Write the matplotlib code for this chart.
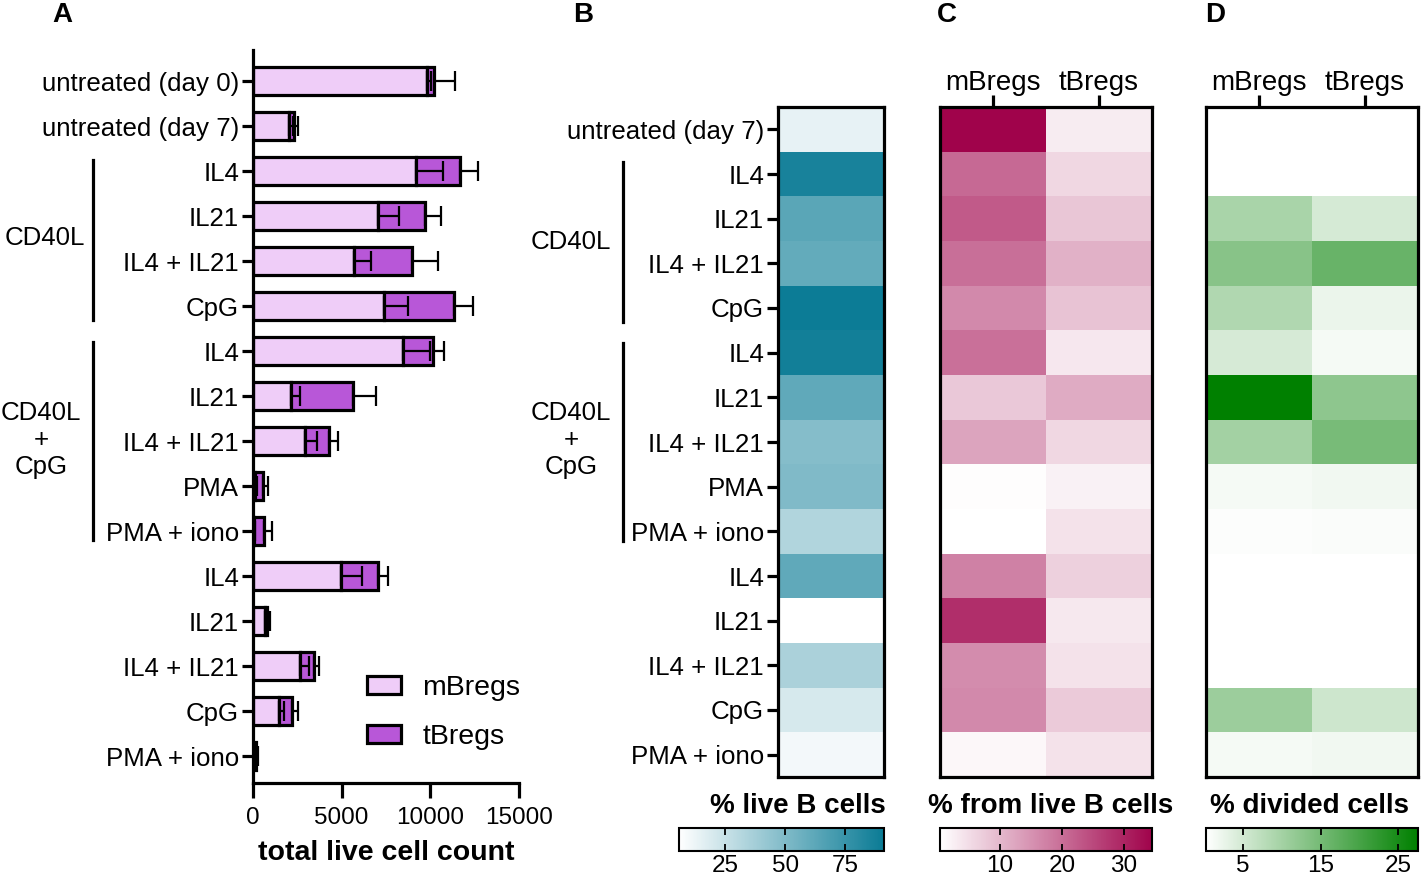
import matplotlib
matplotlib.use("Agg")
import matplotlib.pyplot as plt
import numpy as np
from matplotlib.colors import LinearSegmentedColormap
from matplotlib.patches import Patch

plt.rcParams['font.family'] = ['Liberation Sans', 'DejaVu Sans']

# ---------------- data ----------------
labels_A = ["untreated (day 0)", "untreated (day 7)", "IL4", "IL21", "IL4 + IL21", "CpG",
            "IL4", "IL21", "IL4 + IL21", "PMA", "PMA + iono",
            "IL4", "IL21", "IL4 + IL21", "CpG", "PMA + iono"]
labels_B = labels_A[1:]

mBregs_count = [9800, 2030, 9190, 7060, 5710, 7400, 8480, 2130, 2940, 110, 50, 4970, 680, 2650, 1470, 20]
tBregs_count = [400, 270, 2510, 2660, 3270, 3940, 1670, 3520, 1350, 440, 570, 2070, 130, 800, 720, 150]
mBregs_err = [250, 200, 1550, 1190, 950, 1360, 1500, 520, 660, 100, 80, 1200, 60, 500, 280, 30]
tBregs_err = [1200, 230, 1000, 900, 1470, 1070, 640, 1280, 500, 300, 430, 570, 150, 280, 340, 100]

live_B = [14, 86, 63, 60, 90, 88, 61, 48, 50, 33, 61, 6, 35, 20, 10]

from_live_m = [34.5, 20.5, 22.6, 19.7, 16.3, 19.6, 7.7, 12.6, 0.7, 0.3, 17.4, 28.6, 15.9, 16.3, 1.4]
from_live_t = [2.9, 5.7, 8.0, 10.8, 8.4, 3.6, 11.6, 5.7, 2.3, 4.2, 6.6, 3.4, 4.2, 7.4, 4.2]

divided_m = [0.3, 0.3, 9.5, 13.0, 8.7, 4.6, 27.6, 10.1, 1.3, 0.6, 0.3, 0.3, 0.3, 10.8, 1.3]
divided_t = [0.3, 0.3, 4.8, 16.4, 2.4, 1.3, 12.3, 14.7, 1.8, 0.8, 0.3, 0.3, 0.3, 5.6, 1.8]

cols = ["mBregs", "tBregs"]
x_ticks = [0, 5000, 10000, 15000]
cb_ticks_B = [25, 50, 75]
cb_ticks_C = [10, 20, 30]
cb_ticks_D = [5, 15, 25]

# ---------------- figure ----------------
W, H = 1423, 877
fig = plt.figure(figsize=(W / 100, H / 100), dpi=100)

def ax_px(x0, y0, x1, y1):
    return fig.add_axes([x0 / W, 1 - y1 / H, (x1 - x0) / W, (y1 - y0) / H])

LW = 2.3
FS = 18.6
mcol = '#efcdf8'
tcol = '#b857d8'

# ---- Panel A ----
axA = ax_px(253, 50, 518.7, 783)
y = np.arange(len(labels_A))
mB = np.array(mBregs_count)
tB = np.array(tBregs_count)
axA.barh(y, mB, height=0.62, color=mcol, edgecolor='black', linewidth=LW, zorder=2)
axA.barh(y, tB, left=mB, height=0.62, color=tcol, edgecolor='black', linewidth=LW, zorder=2)
axA.errorbar(mB, y, xerr=[np.zeros_like(mB), mBregs_err], fmt='none', ecolor='black',
             elinewidth=1.6, capsize=7, capthick=1.6, zorder=3)
axA.errorbar(mB + tB, y, xerr=[np.zeros_like(mB), tBregs_err], fmt='none', ecolor='black',
             elinewidth=1.6, capsize=7, capthick=1.6, zorder=3)
axA.set_xlim(0, 15000)
axA.set_ylim(15.6, -0.69)
axA.set_yticks(y)
axA.set_yticklabels(labels_A, fontsize=FS)
axA.set_xticks(x_ticks)
axA.set_xticklabels([str(v) for v in x_ticks], fontsize=17.5)
axA.spines['top'].set_visible(False)
axA.spines['right'].set_visible(False)
for s in ['left', 'bottom']:
    axA.spines[s].set_linewidth(LW)
axA.tick_params(axis='y', width=LW, length=8, color='black', pad=2)
axA.tick_params(axis='x', width=LW, length=11, color='black', pad=6)
axA.set_xlabel("total live cell count", fontsize=20.5, fontweight='bold', labelpad=8)

leg = axA.legend(handles=[Patch(facecolor=mcol, edgecolor='black', linewidth=LW, label='mBregs'),
                          Patch(facecolor=tcol, edgecolor='black', linewidth=LW, label='tBregs')],
                 loc='upper left', bbox_to_anchor=(367 / W, 1 - 675 / H), bbox_transform=fig.transFigure,
                 frameon=False, fontsize=20.5, handlelength=1.2, handleheight=0.6,
                 handletextpad=0.75, labelspacing=0.82, borderpad=0, borderaxespad=0)

# brackets for panel A
trA = axA.get_yaxis_transform()
xa = (93 - 253) / (518.7 - 253)
xl = (45 - 253) / (518.7 - 253)
xl2 = (41 - 253) / (518.7 - 253)
axA.plot([xa, xa], [1.76, 5.31], color='black', lw=LW, transform=trA, clip_on=False)
axA.plot([xa, xa], [5.8, 10.2], color='black', lw=LW, transform=trA, clip_on=False)
axA.text(xl, 3.49, "CD40L", transform=trA, ha='center', va='center', fontsize=FS)
axA.text(xl2, 7.98, "CD40L\n+\nCpG", transform=trA, ha='center', va='center', fontsize=FS,
         linespacing=1.15)

# ---- heatmaps ----
cmapB = LinearSegmentedColormap.from_list('b', ['#ffffff', '#0a7b95'])
cmapC = LinearSegmentedColormap.from_list('c', ['#ffffff', '#a0034b'])
cmapD = LinearSegmentedColormap.from_list('d', ['#ffffff', '#008000'])

def style_heat(ax):
    for s in ax.spines.values():
        s.set_linewidth(LW)

axB = ax_px(778, 107, 884, 777)
imB = axB.imshow(np.array(live_B)[:, None], cmap=cmapB, vmin=6, vmax=91, aspect='auto',
                 interpolation='nearest')
axB.set_xticks([])
axB.set_yticks(np.arange(len(labels_B)))
axB.set_yticklabels(labels_B, fontsize=FS)
axB.tick_params(axis='y', width=LW, length=8, pad=2)
style_heat(axB)
trB = axB.get_yaxis_transform()
xb = (623 - 778) / 106
xbl = (571 - 778) / 106
axB.plot([xb, xb], [0.73, 4.31], color='black', lw=LW, transform=trB, clip_on=False)
axB.plot([xb, xb], [4.78, 9.22], color='black', lw=LW, transform=trB, clip_on=False)
axB.text(xbl, 2.52, "CD40L", transform=trB, ha='center', va='center', fontsize=FS)
axB.text(xbl, 6.95, "CD40L\n+\nCpG", transform=trB, ha='center', va='center', fontsize=FS,
         linespacing=1.15)

axC = ax_px(940, 107, 1152, 777)
imC = axC.imshow(np.column_stack([from_live_m, from_live_t]), cmap=cmapC, vmin=0.3, vmax=34.5,
                 aspect='auto', interpolation='nearest')
axD = ax_px(1206, 107, 1418, 777)
imD = axD.imshow(np.column_stack([divided_m, divided_t]), cmap=cmapD, vmin=0.2, vmax=27.6,
                 aspect='auto', interpolation='nearest')
for ax in (axC, axD):
    ax.set_yticks([])
    ax.xaxis.tick_top()
    ax.set_xticks([0, 1])
    ax.set_xticklabels(cols, fontsize=20)
    ax.tick_params(axis='x', width=LW, length=9, pad=-1)
    style_heat(ax)

# ---- colorbars ----
def cbar(im, x0, x1, ticks, label, lx):
    cax = ax_px(x0, 828, x1, 851)
    cb = fig.colorbar(im, cax=cax, orientation='horizontal')
    cb.set_ticks(ticks)
    cb.ax.tick_params(labelsize=17.5, direction='in', length=5, width=1.3, top=True, bottom=True, pad=3)
    cb.outline.set_linewidth(1.5)
    fig.text(lx / W, 1 - 806 / H, label, ha='center', va='center', fontsize=20, fontweight='bold')
    return cb

cbar(imB, 679, 884, cb_ticks_B, "% live B cells", 798)
cbar(imC, 940, 1152, cb_ticks_C, "% from live B cells", 1051)
cbar(imD, 1206, 1418, cb_ticks_D, "% divided cells", 1310)

# ---- panel letters ----
for txt, x in [("A", 62), ("B", 583), ("C", 947), ("D", 1215)]:
    fig.text(x / W, 1 - 15 / H, txt, ha='center', va='center', fontsize=20, fontweight='bold')

fig.savefig("out.png", dpi=100)
